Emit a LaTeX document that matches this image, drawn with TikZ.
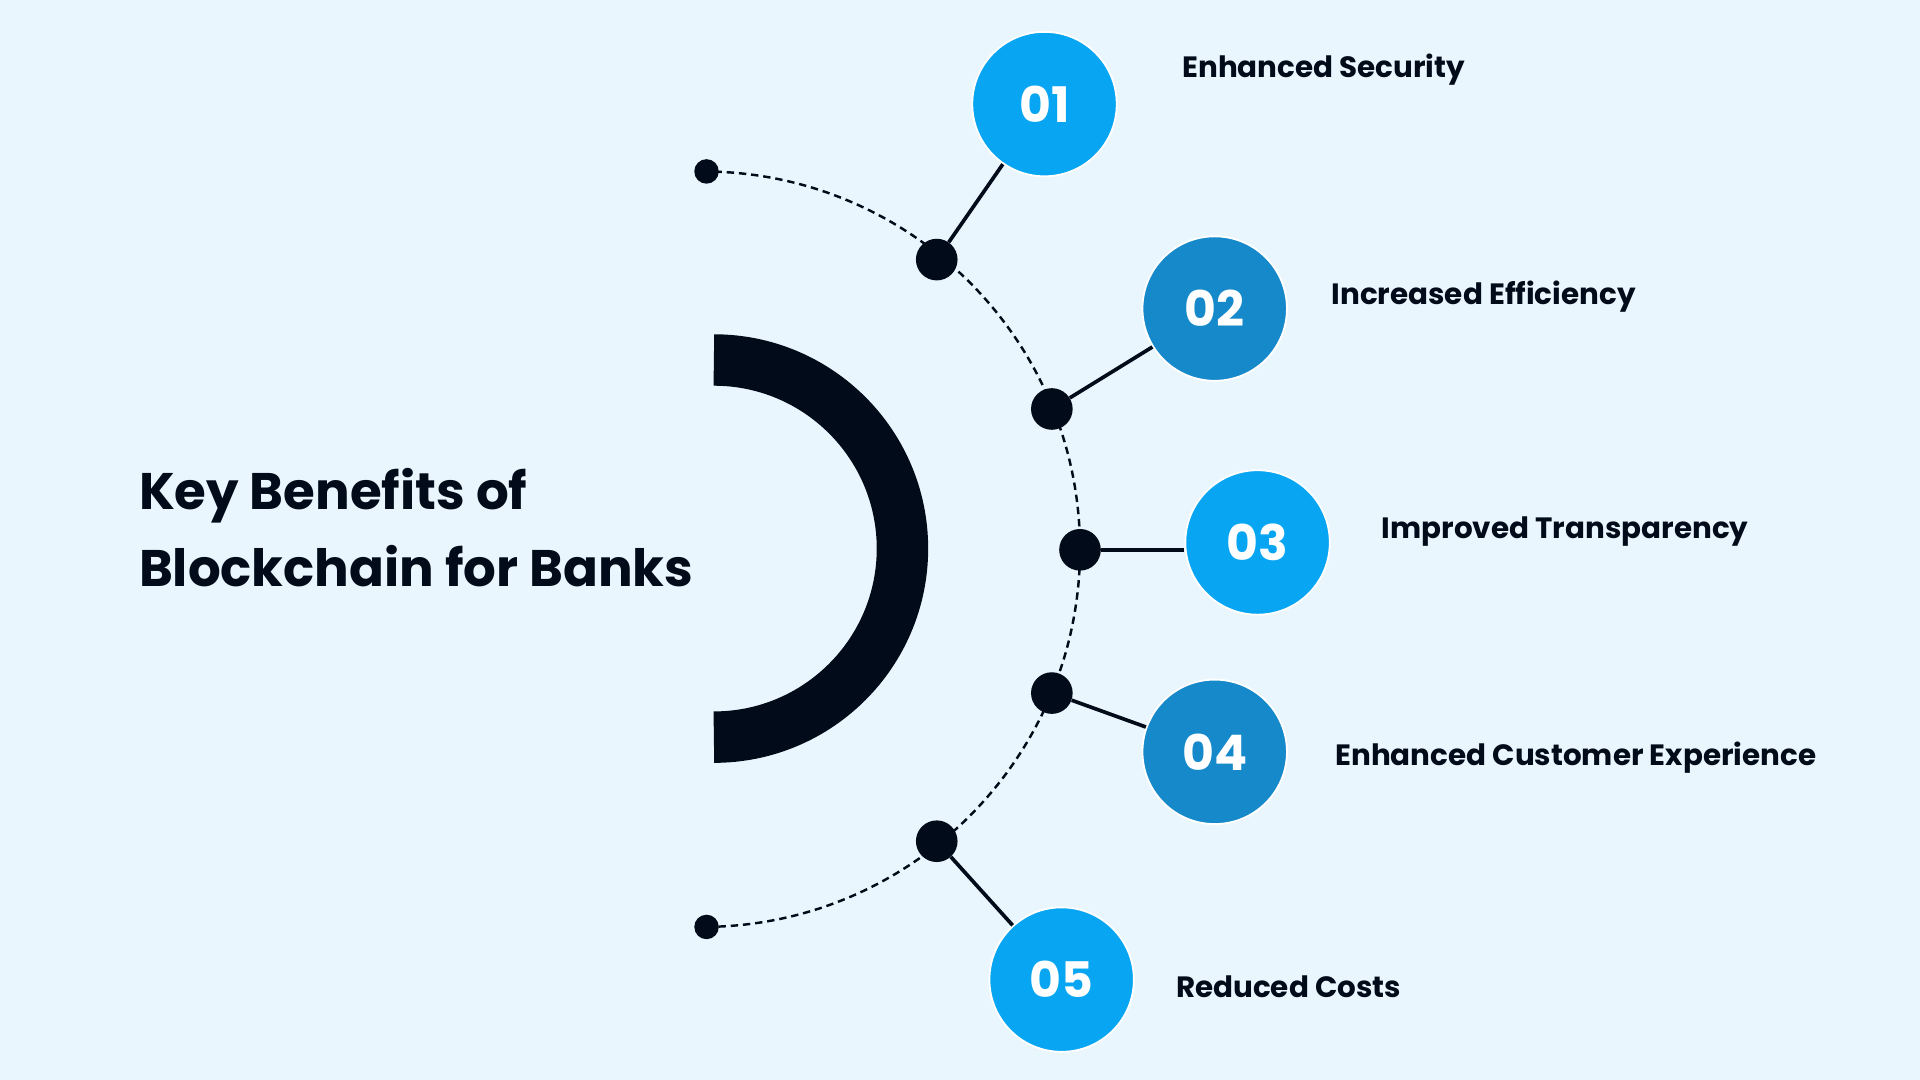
\documentclass[tikz,border=0pt]{standalone}
\usepackage{fontspec}
\setmainfont{Poppins}
\definecolor{bg}{HTML}{EAF6FE}
\definecolor{dark}{HTML}{020B19}
\definecolor{cbright}{HTML}{08A6F2}
\definecolor{cdeep}{HTML}{1589C9}
\begin{document}
\begin{tikzpicture}[x=1pt,y=-1pt,
  num/.style={circle,draw=white,line width=1.5pt,minimum size=118pt,inner sep=0pt,text=white,font=\fontsize{40}{40}\selectfont\bfseries},
  lbl/.style={anchor=west,text=dark,font=\fontsize{24}{26}\selectfont\bfseries},
  bigdot/.style={circle,fill=dark,minimum size=34pt,inner sep=0pt},
  smalldot/.style={circle,fill=dark,minimum size=20pt,inner sep=0pt},
  link/.style={line width=3pt,draw=dark}]
\fill[bg] (0,0) rectangle (1568,882);
\useasboundingbox (0,0) rectangle (1568,882);
% title
\node[anchor=west,text=dark,align=left,font=\fontsize{42}{63}\selectfont\bfseries] (title) at (110,431) {Key Benefits of\\Blockchain for Banks};
% thick half ring
\draw[dark,line width=42pt] (583,294) arc[start angle=-90,end angle=90,radius=154];
% dashed arc
\draw[dark,line width=2pt,dash pattern=on 6pt off 4pt] (573.5,140) arc[start angle=-90,end angle=90,radius=308.5];
\node[smalldot] (e1) at (577,140) {};
\node[smalldot] (e2) at (577,757) {};
\node[bigdot] (d1) at (765,212) {};
\node[bigdot] (d2) at (859,334) {};
\node[bigdot] (d3) at (882,449) {};
\node[bigdot] (d4) at (859,566) {};
\node[bigdot] (d5) at (765,687) {};
\node[num,fill=cbright] (c1) at (853,85) {01};
\node[num,fill=cdeep] (c2) at (992,252) {02};
\node[num,fill=cbright] (c3) at (1027,443) {03};
\node[num,fill=cdeep] (c4) at (992,614) {04};
\node[num,fill=cbright] (c5) at (867,800) {05};
\draw[link] (d1) -- (c1);
\draw[link] (d2) -- (c2);
\draw[link] (d3) -- (c3.west |- d3);
\draw[link] (d4) -- (c4);
\draw[link] (d5) -- (c5);
\node[lbl] (l1) at (962,57) {Enhanced Security};
\node[lbl] (l2) at (1084,242) {Increased Efficiency};
\node[lbl] (l3) at (1125,434) {Improved Transparency};
\node[lbl] (l4) at (1087,619) {Enhanced Customer Experience};
\node[lbl] (l5) at (957,806) {Reduced Costs};
\end{tikzpicture}
\end{document}
